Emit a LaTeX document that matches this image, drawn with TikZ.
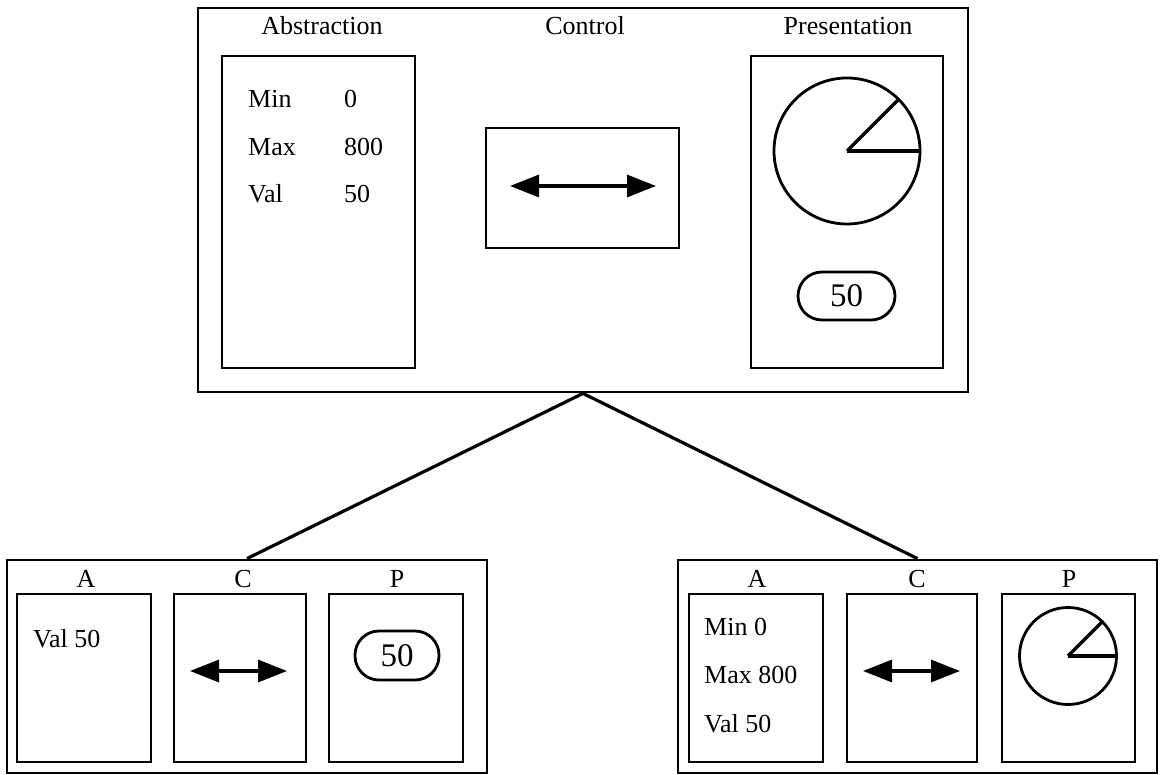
\documentclass[tikz,border=0pt]{standalone}
\usepackage{fontspec}
\setmainfont{Liberation Serif}
\usetikzlibrary{arrows.meta}
\begin{document}
\begin{tikzpicture}[x=1pt,y=-1pt,
  box/.style={draw,line width=2.8pt,rectangle,inner sep=0pt},
  lbl/.style={inner sep=0pt,anchor=base,font=\fontsize{26}{30}\selectfont},
  txt/.style={inner sep=0pt,anchor=base west,font=\fontsize{26}{30}\selectfont},
  pill/.style={draw,line width=2.8pt,rectangle,rounded corners=24pt,inner sep=0pt,
    font=\fontsize{33}{36}\selectfont},
  dial/.style={draw,line width=2.8pt,circle,inner sep=0pt},
  hand/.style={line width=3.2pt},
  slider/.style={line width=3.2pt,{Triangle[length=29pt,width=22pt]}-{Triangle[length=29pt,width=22pt]}},
  link/.style={line width=3.2pt}]
\useasboundingbox (0,0) rectangle (1160,775);

% ---- top-level agent ----
\node[box,minimum width=770,minimum height=384] (top) at (583,200) {};
\node[lbl] (tA) at (322,35) {Abstraction};
\node[lbl] (tC) at (585,35) {Control};
\node[lbl] (tP) at (848,35) {Presentation};

\node[box,minimum width=193,minimum height=312] (abs) at (318.5,212) {};
\node[txt] (minL) at (248,108) {Min};
\node[txt] (minV) at (344,108) {0};
\node[txt] (maxL) at (248,156) {Max};
\node[txt] (maxV) at (344,156) {800};
\node[txt] (valL) at (248,203) {Val};
\node[txt] (valV) at (344,203) {50};

\node[box,minimum width=193,minimum height=120] (ctl) at (582.5,188) {};
\coordinate (ctlL) at (510,186);
\coordinate (ctlR) at (656,186);
\draw[slider] (ctlL) -- (ctlR);

\node[box,minimum width=192,minimum height=312] (pres) at (847,212) {};
\node[dial,minimum size=146] (dialT) at (847,151) {};
\draw[hand] (dialT.center) -- (dialT.east);
\draw[hand] (dialT.center) -- (dialT.45);
\node[pill,minimum width=97,minimum height=48] (valT) at (846.5,296) {50};

% ---- left sub-agent ----
\node[box,minimum width=480,minimum height=213] (left) at (247,666.5) {};
\node[lbl] (lA) at (86,587) {A};
\node[lbl] (lC) at (243,587) {C};
\node[lbl] (lP) at (397,587) {P};
\node[box,minimum width=134,minimum height=168] (lAbs) at (84,678) {};
\node[box,minimum width=132,minimum height=168] (lCtl) at (240,678) {};
\node[box,minimum width=134,minimum height=168] (lPres) at (396,678) {};
\node[txt] (lVal) at (33,647) {Val 50};
\coordinate (lcL) at (190,671);
\coordinate (lcR) at (287,671);
\draw[slider] (lcL) -- (lcR);
\node[pill,minimum width=84,minimum height=49] (lValP) at (397,655.5) {50};

% ---- right sub-agent ----
\node[box,minimum width=479,minimum height=213] (right) at (917.5,666.5) {};
\node[lbl] (rA) at (757,587) {A};
\node[lbl] (rC) at (917,587) {C};
\node[lbl] (rP) at (1069,587) {P};
\node[box,minimum width=134,minimum height=168] (rAbs) at (756,678) {};
\node[box,minimum width=130,minimum height=168] (rCtl) at (912,678) {};
\node[box,minimum width=133,minimum height=168] (rPres) at (1068.5,678) {};
\node[txt] (rMin) at (704,635) {Min 0};
\node[txt] (rMax) at (704,683) {Max 800};
\node[txt] (rVal) at (704,732) {Val 50};
\coordinate (rcL) at (863,671);
\coordinate (rcR) at (960,671);
\draw[slider] (rcL) -- (rcR);
\node[dial,minimum size=97] (dialR) at (1068,656) {};
\draw[hand] (dialR.center) -- (dialR.east);
\draw[hand] (dialR.center) -- (dialR.45);

% ---- hierarchy links ----
\draw[link] (top.south) -- (left.north);
\draw[link] (top.south) -- (right.north);
\end{tikzpicture}
\end{document}
